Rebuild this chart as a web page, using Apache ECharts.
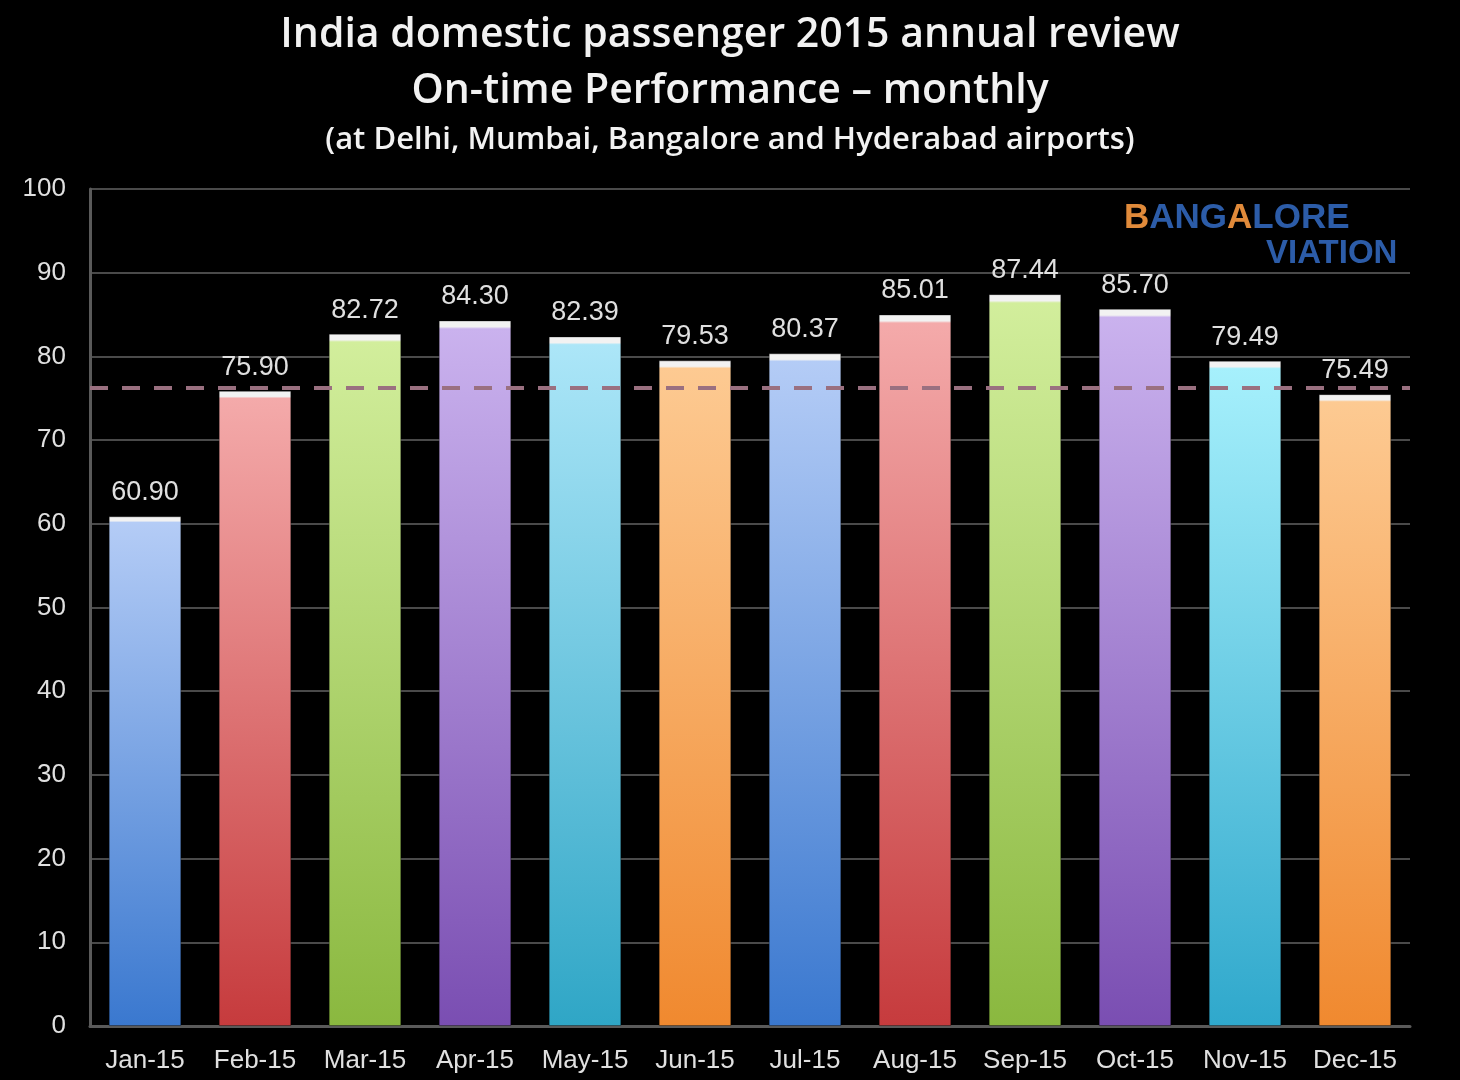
<!DOCTYPE html>
<html>
<head>
<meta charset="utf-8">
<script src="https://cdn.jsdelivr.net/npm/echarts@6/dist/echarts.min.js"></script>
<style>
html,body{margin:0;padding:0;background:#000;}
#chart{width:1460px;height:1080px;}
</style>
</head>
<body>
<div id="chart"></div>
<script>
var categories = ['Jan-15','Feb-15','Mar-15','Apr-15','May-15','Jun-15','Jul-15','Aug-15','Sep-15','Oct-15','Nov-15','Dec-15'];
var otpValues = [60.90, 75.90, 82.72, 84.30, 82.39, 79.53, 80.37, 85.01, 87.44, 85.70, 79.49, 75.49];
var referenceLine = 76.2;
var yTicks = [0,10,20,30,40,50,60,70,80,90,100];

var palette = [
  ['#b4ccf6', '#3a78cf'],
  ['#f4aaaa', '#c63b3d'],
  ['#d2ee9c', '#8ab83f'],
  ['#cab2ee', '#7a4eb2'],
  ['#ace6f8', '#2fa6c6'],
  ['#fdca92', '#f0892f'],
  ['#b4ccf6', '#3a78cf'],
  ['#f4aaaa', '#c63b3d'],
  ['#d2ee9c', '#8ab83f'],
  ['#cab2ee', '#7a4eb2'],
  ['#a6f0fc', '#2fa8cc'],
  ['#fdca92', '#f0892f']
];

var barData = otpValues.map(function(v, i){
  return {
    value: v,
    itemStyle: {
      color: new echarts.graphic.LinearGradient(0,0,0,1,[
        {offset:0, color:'#f2f2f2'},
        {offset:0.009, color:'#f2f2f2'},
        {offset:0.012, color:palette[i][0]},
        {offset:1, color:palette[i][1]}
      ]),
      borderColor: 'rgba(0,0,0,0.35)',
      borderWidth: 1
    }
  };
});

var chart = echarts.init(document.getElementById('chart'), null, {renderer:'canvas'});
var titleFont = '"Open Sans", "Noto Sans", sans-serif';
var labelFont = '"Liberation Sans", Arial, sans-serif';
chart.setOption({
  backgroundColor: '#000',
  animation: false,
  title: [
    {text:'India domestic passenger 2015 annual review', left:'center', top:10,
     textStyle:{color:'#f2f2f2', fontSize:41, fontWeight:600, fontFamily:titleFont}},
    {text:'On-time Performance \u2013 monthly', left:'center', top:66,
     textStyle:{color:'#f2f2f2', fontSize:41, fontWeight:600, fontFamily:titleFont}},
    {text:'(at Delhi, Mumbai, Bangalore and Hyderabad airports)', left:'center', top:120,
     textStyle:{color:'#f2f2f2', fontSize:31, fontWeight:600, fontFamily:titleFont}}
  ],
  graphic: [
    {type:'text', left:1124, top:201, style:{
      rich:{b:{fill:'#e08a3a', fontSize:35, fontWeight:'bold', fontFamily:labelFont},
            r:{fill:'#2c5ca8', fontSize:35, fontWeight:'bold', fontFamily:labelFont}},
      text:'{b|B}{r|ANG}{b|A}{r|LORE}'
    }},
    {type:'text', left:1266, top:237, style:{
      fill:'#2c5ca8', fontSize:33, fontWeight:'bold', fontFamily:labelFont, text:'VIATION'
    }}
  ],
  grid: {left:90, right:50, top:189, bottom:54, containLabel:false},
  xAxis: {
    type:'category',
    data: categories,
    axisLine:{show:true, lineStyle:{color:'#5a5a5a', width:3}},
    axisTick:{show:false},
    axisLabel:{interval:0, color:'#e0e0e0', fontSize:26, fontFamily:labelFont, margin:22}
  },
  yAxis: {
    type:'value',
    min: yTicks[0], max: yTicks[yTicks.length-1], interval: 10,
    axisLine:{show:true, lineStyle:{color:'#5a5a5a', width:3}},
    axisTick:{show:false},
    splitLine:{show:true, lineStyle:{color:'#4a4a4a', width:2}},
    axisLabel:{color:'#e0e0e0', fontSize:26, fontFamily:labelFont, margin:24}
  },
  series: [{
    type:'bar',
    data: barData,
    barWidth:'66%',
    label:{show:true, position:'top', distance:10, color:'#e0e0e0', fontSize:27,
      fontFamily:labelFont,
      formatter:function(p){return p.value.toFixed(2);}},
    markLine:{
      silent:true, symbol:'none',
      label:{show:false},
      lineStyle:{type:[18,14], color:'#9a7080', width:4},
      data:[{yAxis: referenceLine}]
    }
  }]
});
</script>
</body>
</html>
